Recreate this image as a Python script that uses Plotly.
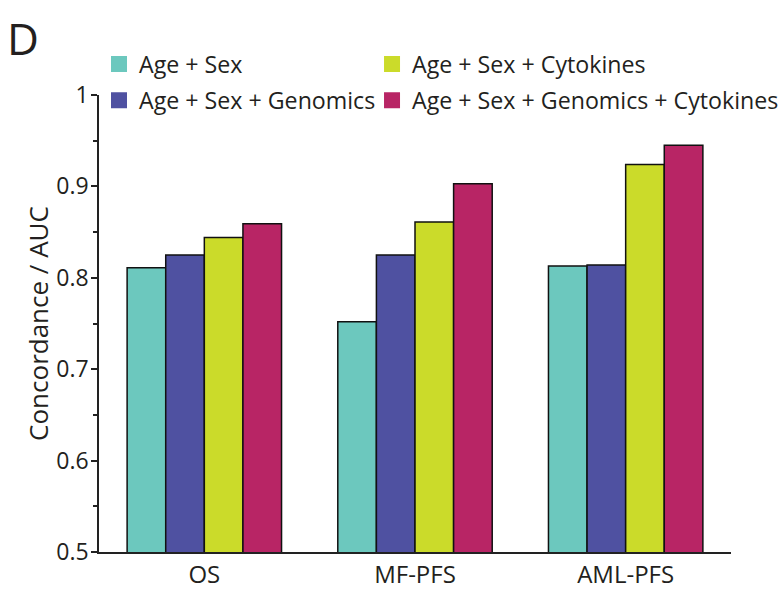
import plotly.graph_objects as go

categories = ["OS", "MF-PFS", "AML-PFS"]
series_names = ["Age + Sex", "Age + Sex + Genomics", "Age + Sex + Cytokines", "Age + Sex + Genomics + Cytokines"]
age_sex = [0.811, 0.752, 0.813]
age_sex_genomics = [0.825, 0.825, 0.814]
age_sex_cytokines = [0.844, 0.861, 0.924]
age_sex_genomics_cytokines = [0.859, 0.903, 0.945]
series_values = [age_sex, age_sex_genomics, age_sex_cytokines, age_sex_genomics_cytokines]
colors = ["#6CC8BE", "#4F51A1", "#CBDB2A", "#B82565"]
legend_ids = ["legend", "legend", "legend2", "legend2"]
tick_vals = [0.5, 0.6, 0.7, 0.8, 0.9, 1.0]
tick_text = ["0.5", "0.6", "0.7", "0.8", "0.9", "1"]

FONT = "Open Sans"
TXT = "#231F20"

fig = go.Figure()
for name, vals, col in zip(series_names, series_values, colors):
    fig.add_trace(go.Bar(
        x=categories, y=vals, name=name, marker=dict(color=col, line=dict(color="#111", width=1.5)),
        showlegend=False,
    ))
for i, (name, col, lg) in enumerate(zip(series_names, colors, legend_ids)):
    fig.add_trace(go.Scatter(
        x=[None], y=[None], mode="markers", name=name, legend=lg, legendgroup=f"g{i}",
        marker=dict(symbol="square", size=20, color=col, line=dict(width=0)),
    ))

fig.update_layout(
    width=782, height=594,
    margin=dict(l=99, r=51, t=95, b=42, autoexpand=False),
    plot_bgcolor="white", paper_bgcolor="white",
    font=dict(family=FONT, size=22, color=TXT),
    barmode="group", bargap=0.267, bargroupgap=0,
    legend=dict(x=0.0, y=1.115, xanchor="left", yanchor="top", orientation="v",
                bgcolor="rgba(0,0,0,0)", tracegroupgap=3, font=dict(size=23.2, color=TXT)),
    legend2=dict(x=0.432, y=1.115, xanchor="left", yanchor="top", orientation="v",
                 bgcolor="rgba(0,0,0,0)", tracegroupgap=3, font=dict(size=23.2, color=TXT)),
    annotations=[dict(text="D", xref="paper", yref="paper", x=-0.148, y=1.195,
                      xanchor="left", yanchor="top", showarrow=False,
                      font=dict(size=44, color=TXT, family=FONT))],
)
fig.update_xaxes(showline=True, linecolor="#222", linewidth=1.5, ticks="", showgrid=False,
                 automargin=False, tickfont=dict(size=24, color=TXT), range=[-0.5, 2.5])
fig.update_yaxes(range=[0.5, 1.0], tickvals=tick_vals, ticktext=tick_text, showgrid=False,
                 automargin=False, ticklabelstandoff=-2,
                 showline=True, linecolor="#222", linewidth=1.5, ticks="outside", ticklen=6,
                 tickwidth=1.5, tickcolor="#222", zeroline=False,
                 minor=dict(dtick=0.05, tick0=0.5, ticks="outside", ticklen=4, tickwidth=1.5, tickcolor="#222"),
                 tickfont=dict(size=23, color=TXT),
                 title=dict(text="Concordance / AUC", font=dict(size=26, color=TXT), standoff=0))

fig.write_html("out.html")
